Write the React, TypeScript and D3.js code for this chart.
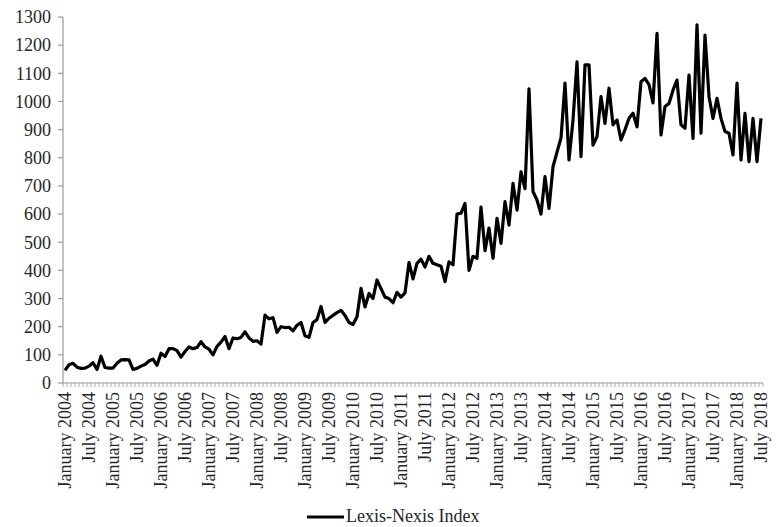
import React from "react";
import * as d3 from "d3";

const monthNames = ["January","February","March","April","May","June","July","August","September","October","November","December"];
const years = [2004,2005,2006,2007,2008,2009,2010,2011,2012,2013,2014,2015,2016,2017,2018];

const values = [
  45, 65, 70, 56, 52, 53, 60, 72, 48, 95, 55, 53,
  53, 70, 82, 83, 82, 48, 52, 60, 66, 78, 85, 63,
  106, 94, 122, 122, 115, 92, 112, 128, 122, 126, 147, 128,
  120, 100, 130, 145, 165, 122, 160, 157, 162, 182, 160, 148,
  150, 138, 241, 228, 232, 180, 200, 197, 198, 185, 205, 215,
  168, 162, 215, 225, 272, 215, 230, 240, 250, 258, 240, 215,
  208, 235, 336, 270, 318, 300, 366, 335, 305, 300, 285, 322,
  305, 320, 428, 370, 425, 440, 412, 450, 425, 420, 415, 360,
  430, 420, 600, 603, 638, 400, 450, 443, 625, 470, 550, 443,
  585, 496, 644, 561, 709, 614, 750, 690, 1045, 680, 650, 600,
  733, 620, 768, 820, 870, 1065, 792, 934, 1141, 804, 1130, 1130,
  845, 875, 1017, 922, 1047, 917, 934, 863, 900, 940, 958, 910,
  1070, 1082, 1060, 995, 1242, 881, 982, 993, 1040, 1076, 917, 905,
  1094, 869, 1272, 887, 1236, 1017, 940, 1011, 940, 893, 887, 810,
  1065, 792, 958, 786, 940, 786, 940
];

const categories: string[] = [];
years.forEach((y) => monthNames.forEach((m) => categories.push(`${m} ${y}`)));
categories.length = values.length;

const tickLabels = [
  "January 2004","July 2004","January 2005","July 2005","January 2006","July 2006",
  "January 2007","July 2007","January 2008","July 2008","January 2009","July 2009",
  "January 2010","July 2010","January 2011","July 2011","January 2012","July 2012",
  "January 2013","July 2013","January 2014","July 2014","January 2015","July 2015",
  "January 2016","July 2016","January 2017","July 2017","January 2018","July 2018"
];
const yTicks = [0,100,200,300,400,500,600,700,800,900,1000,1100,1200,1300];
const seriesName = "Lexis-Nexis Index";

export default function App() {
  const W = 776, H = 527;
  const left = 63, right = 763, top = 17, bottom = 383;
  const x = d3.scaleBand<string>().domain(categories).range([left, right]).paddingInner(0).paddingOuter(0);
  const y = d3.scaleLinear().domain([0, 1300]).range([bottom, top]);
  const cx = (c: string) => (x(c) as number) + x.bandwidth() / 2;
  const line = d3.line<number>().x((_, i) => cx(categories[i])).y((d) => y(d));
  const font = "'Liberation Serif', 'Times New Roman', serif";
  const tStyle = { fontFamily: font } as React.CSSProperties;
  const axisColor = "#9a9a9a";
  const textColor = "#262626";
  const boundaries = d3.range(categories.length + 1).map((i) => left + i * x.bandwidth());

  return (
    <svg width={W} height={H} style={{ position: "absolute", left: 0, top: 0, background: "#fff", fontFamily: font }}>
      <line x1={left} x2={left} y1={top} y2={bottom} stroke={axisColor} strokeWidth={1.2} />
      {yTicks.map((t) => (
        <g key={t}>
          <line x1={left - 5} x2={left} y1={y(t)} y2={y(t)} stroke={axisColor} strokeWidth={1.2} />
          <text x={left - 12} y={y(t)} dy="0.35em" textAnchor="end" fontSize={18} fill={textColor} style={tStyle}>{t}</text>
        </g>
      ))}
      <line x1={left} x2={right} y1={bottom} y2={bottom} stroke={axisColor} strokeWidth={1.2} />
      {boundaries.map((bx, i) => (
        <line key={i} x1={bx} x2={bx} y1={bottom} y2={bottom + 4} stroke={axisColor} strokeWidth={0.8} />
      ))}
      {tickLabels.map((lab) => {
        const px = cx(lab);
        return (
          <text key={lab} transform={`translate(${px + 5.5},${bottom + 9}) rotate(-90)`} textAnchor="end" fontSize={18} fill={textColor} style={tStyle}>
            {lab}
          </text>
        );
      })}
      <path d={line(values) || ""} fill="none" stroke="#000" strokeWidth={3.2} strokeLinejoin="round" />
      <line x1={307} x2={344} y1={517} y2={517} stroke="#000" strokeWidth={3.2} />
      <text x={346} y={522} fontSize={18} fill={textColor} style={tStyle}>{seriesName}</text>
    </svg>
  );
}
